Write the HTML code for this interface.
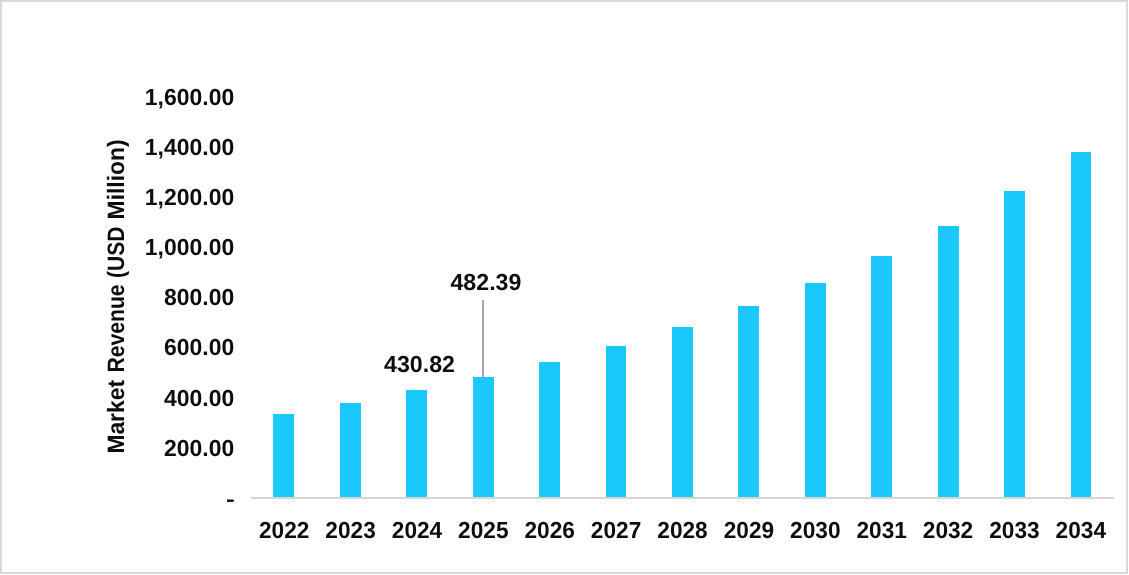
<!DOCTYPE html>
<html lang="en">
<head>
<meta charset="utf-8">
<title>Market Revenue (USD Million)</title>
<style>
html,body{margin:0;padding:0;background:#fff;overflow:hidden}
svg{display:block}
text{text-rendering:geometricPrecision;font-family:"Liberation Sans",sans-serif;font-weight:bold;fill:#0d0d0d}
</style>
</head>
<body>
<svg width="1129" height="575" viewBox="0 0 1129 575">
<rect x="0" y="0" width="1129" height="575" fill="#ffffff"/>
<rect x="1" y="1" width="1126" height="572" fill="none" stroke="#d9d9d9" stroke-width="2"/>
<rect x="251" y="497" width="863" height="2" fill="#d5d5d5"/>
<g fill="#1bc8fc" shape-rendering="crispEdges">
<rect x="273" y="414" width="21" height="83"/>
<rect x="340" y="403" width="21" height="94"/>
<rect x="406" y="390" width="21" height="107"/>
<rect x="473" y="377" width="21" height="120"/>
<rect x="539" y="362" width="21" height="135"/>
<rect x="606" y="346" width="20" height="151"/>
<rect x="672" y="327" width="21" height="170"/>
<rect x="738" y="306" width="21" height="191"/>
<rect x="805" y="283" width="21" height="214"/>
<rect x="871" y="256" width="21" height="241"/>
<rect x="938" y="226" width="21" height="271"/>
<rect x="1004" y="191" width="21" height="306"/>
<rect x="1071" y="152" width="20" height="345"/>
</g>
<rect x="482.1" y="300" width="1.8" height="77" fill="#a0a0a0"/>
<g font-size="23.2" text-anchor="end">
<text transform="translate(234.2,105) scale(0.99,1)">1,600.00</text>
<text transform="translate(234.2,155) scale(0.99,1)">1,400.00</text>
<text transform="translate(234.2,205) scale(0.99,1)">1,200.00</text>
<text transform="translate(234.2,255) scale(0.99,1)">1,000.00</text>
<text transform="translate(234.2,305) scale(0.99,1)">800.00</text>
<text transform="translate(234.2,355) scale(0.99,1)">600.00</text>
<text transform="translate(234.2,406) scale(0.99,1)">400.00</text>
<text transform="translate(234.2,456) scale(0.99,1)">200.00</text>
<text transform="translate(234.7,506) scale(1.14,0.88)">-</text>
</g>
<g font-size="23.2" text-anchor="middle">
<text transform="translate(284.2,538) scale(0.978,1)">2022</text>
<text transform="translate(350.6,538) scale(0.978,1)">2023</text>
<text transform="translate(417.0,538) scale(0.978,1)">2024</text>
<text transform="translate(483.3,538) scale(0.978,1)">2025</text>
<text transform="translate(549.7,538) scale(0.978,1)">2026</text>
<text transform="translate(616.1,538) scale(0.978,1)">2027</text>
<text transform="translate(682.5,538) scale(0.978,1)">2028</text>
<text transform="translate(748.9,538) scale(0.978,1)">2029</text>
<text transform="translate(815.3,538) scale(0.978,1)">2030</text>
<text transform="translate(881.7,538) scale(0.978,1)">2031</text>
<text transform="translate(948.0,538) scale(0.978,1)">2032</text>
<text transform="translate(1014.4,538) scale(0.978,1)">2033</text>
<text transform="translate(1080.8,538) scale(0.978,1)">2034</text>
<text transform="translate(419.5,372) scale(1,1)">430.82</text>
<text transform="translate(485.9,290) scale(1,1)">482.39</text>
</g>
<g font-size="23.7" transform="translate(123.6,0) rotate(-90)">
<text x="-453.6" y="0" textLength="73.6" lengthAdjust="spacingAndGlyphs">Market</text>
<text x="-372.6" y="0" textLength="88.2" lengthAdjust="spacingAndGlyphs">Revenue</text>
<text x="-278" y="0" textLength="51.4" lengthAdjust="spacingAndGlyphs">(USD</text>
<text x="-219.4" y="0" textLength="80" lengthAdjust="spacingAndGlyphs">Million)</text>
</g>
</svg>
</body>
</html>
